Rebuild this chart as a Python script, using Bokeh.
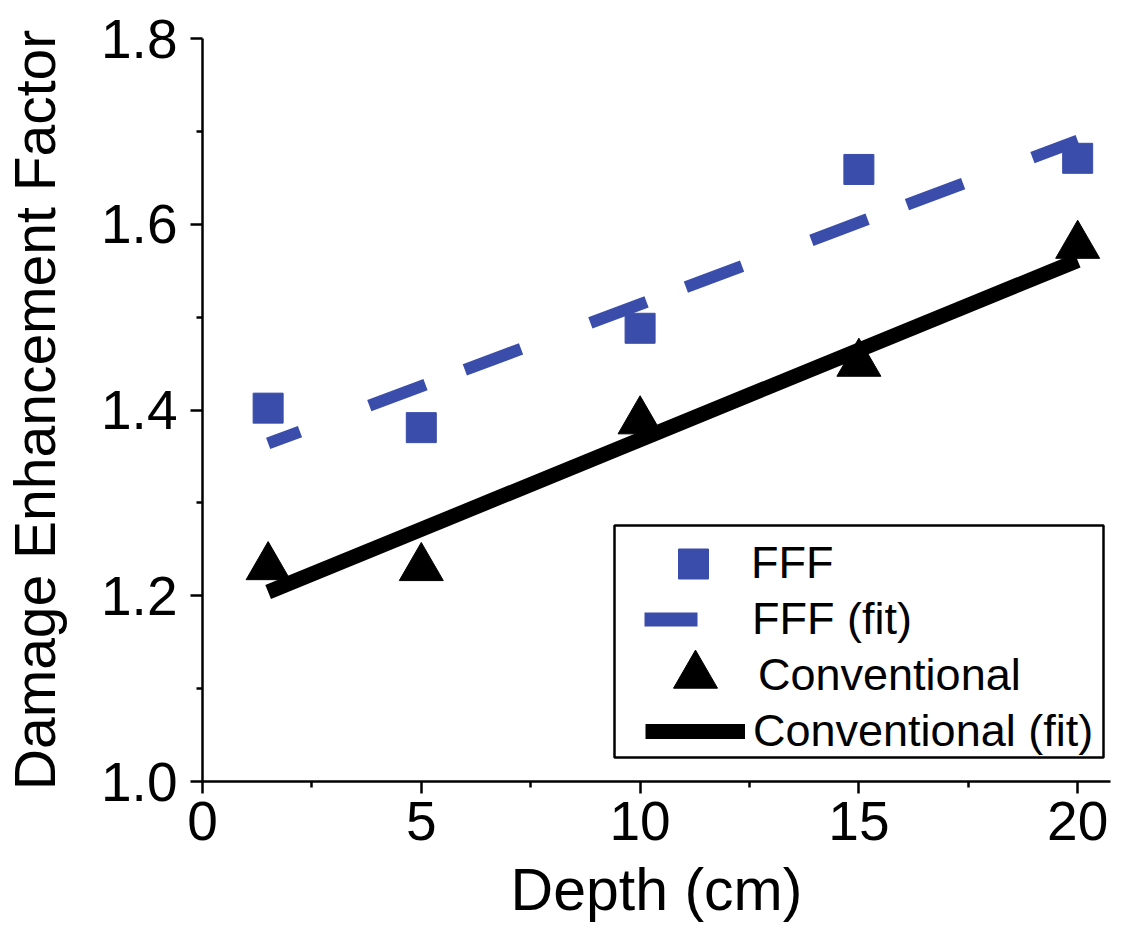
from bokeh.plotting import figure
from bokeh.models import (Range1d, FixedTicker, Legend, LegendItem,
                          NumeralTickFormatter, BoxAnnotation)
from bokeh.embed import file_html
from bokeh.resources import INLINE

# ---- data ----
depth = [1.5, 5, 10, 15, 20]
fff = [1.402, 1.381, 1.488, 1.659, 1.671]
conventional = [1.231, 1.230, 1.388, 1.450, 1.577]
fit_depth = [1.5, 20]
fff_fit = [1.364, 1.690]
conventional_fit = [1.204, 1.561]

x_ticks = [0, 5, 10, 15, 20]
x_minor = [2.5, 7.5, 12.5, 17.5]
y_ticks = [1.0, 1.2, 1.4, 1.6, 1.8]
y_minor = [1.1, 1.3, 1.5, 1.7]

series_labels = ["FFF", "FFF (fit)", "Conventional", "Conventional (fit)"]

BLUE = "#3A4DAA"
FONT = "Liberation Sans"

p = figure(width=1127, height=943, output_backend="svg", toolbar_location=None,
           x_range=Range1d(0, 20.75), y_range=Range1d(1.0, 1.8),
           min_border_left=201, min_border_right=17,
           min_border_top=38, min_border_bottom=162)
p.outline_line_color = None
p.grid.visible = False
p.background_fill_color = "white"
p.border_fill_color = "white"

# ---- glyphs ----
r_tri = p.scatter(depth, conventional, marker="triangle", size=44,
                  color="black")
r_cfit = p.line(fit_depth, conventional_fit, line_color="black", line_width=15)
r_ffit = p.line(fit_depth, fff_fit, line_color=BLUE, line_width=12,
                line_dash="60 74 60 42", line_dash_offset=26)
r_sq = p.scatter(depth, fff, marker="square", size=30, color=BLUE)
# hidden proxy of the dashed fit, used only for its legend swatch
r_ffit_leg = p.line(fit_depth, fff_fit, line_color=BLUE, line_width=14,
                    line_dash="53 100", visible=False)

# ---- axes ----
p.xaxis.ticker = FixedTicker(ticks=x_ticks, minor_ticks=x_minor)
p.yaxis.ticker = FixedTicker(ticks=y_ticks, minor_ticks=y_minor)
p.xaxis.formatter = NumeralTickFormatter(format="0")
p.yaxis.formatter = NumeralTickFormatter(format="0.0")
p.xaxis.axis_label = "Depth (cm)"
p.yaxis.axis_label = "Damage Enhancement Factor"
for ax in (p.xaxis[0], p.yaxis[0]):
    ax.axis_line_width = 2.5
    ax.axis_line_color = "black"
    ax.major_tick_line_width = 2.5
    ax.minor_tick_line_width = 2.5
    ax.major_tick_line_color = "black"
    ax.minor_tick_line_color = "black"
    ax.major_tick_in = 0
    ax.major_tick_out = 12
    ax.minor_tick_in = 0
    ax.minor_tick_out = 6
    ax.major_label_text_font = FONT
    ax.major_label_text_font_size = "55px"
    ax.major_label_text_color = "black"
    ax.axis_label_text_font = FONT
    ax.axis_label_text_font_style = "normal"
    ax.axis_label_text_color = "black"
p.xaxis.axis_label_text_font_size = "59px"
p.yaxis.axis_label_text_font_size = "57px"
p.xaxis.major_label_standoff = 8
p.yaxis.major_label_standoff = 13
p.xaxis.axis_label_standoff = 14
p.yaxis.axis_label_standoff = 31

# ---- legend (frame around, then one legend per row) ----
box = BoxAnnotation(left=412, right=901, bottom=24, top=256,
                    left_units="screen", right_units="screen",
                    bottom_units="screen", top_units="screen",
                    fill_color="white", fill_alpha=1.0,
                    line_color="black", line_width=2.5, line_alpha=1.0)
p.add_layout(box)

def add_legend(label, renderer, loc, gw, gh):
    lg = Legend(items=[LegendItem(label=label, renderers=[renderer])],
                location=loc, glyph_width=gw, glyph_height=gh,
                padding=0, margin=0, spacing=0, label_standoff=8,
                border_line_color=None, background_fill_alpha=0,
                label_text_font=FONT, label_text_font_size="45px",
                label_text_color="black")
    p.add_layout(lg)

add_legend(series_labels[0], r_sq, (441, 180.5), 100, 75)
add_legend(series_labels[1], r_ffit_leg, (442, 136), 100, 50)
add_legend(series_labels[2], r_tri, (438, 51), 110, 110)
add_legend(series_labels[3], r_cfit, (443, 24), 100, 50)

open("out.html", "w").write(file_html(p, INLINE))
